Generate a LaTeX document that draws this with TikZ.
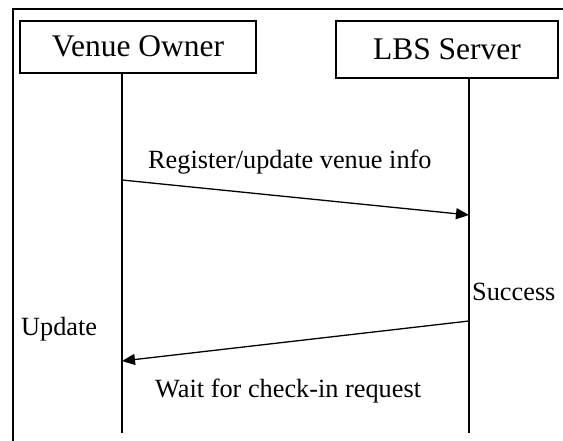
\documentclass[tikz,border=0pt]{standalone}
\usepackage{fontspec}
\setmainfont{Liberation Serif}
\usetikzlibrary{arrows.meta}
\begin{document}
\begin{tikzpicture}[x=1pt,y=-1pt,
  actor/.style={draw, line width=1.3pt, inner sep=0pt, text height=20pt, text depth=0pt,
    font=\fontsize{31.5}{36}\selectfont},
  lifeline/.style={line width=1.3pt},
  msg/.style={line width=1.3pt, -{Triangle[length=13pt,width=11pt]}},
  lbl/.style={anchor=base west, inner sep=0pt, font=\fontsize{26.3}{30}\selectfont},
  frame/.style={line width=1.5pt}]
  \useasboundingbox (0,0) rectangle (563,441);

  % outer frame (open at right and bottom)
  \draw[frame] (563,9) -- (13,9) -- (13,441);

  % participants
  \node[actor, minimum width=236pt, minimum height=52pt] (owner) at (138,47) {Venue Owner};
  \node[actor, minimum width=222pt, minimum height=57pt] (server) at (447,49.5) {LBS Server};

  % lifelines
  \coordinate (ownerEnd) at (122,433);
  \coordinate (serverEnd) at (469,433);
  \draw[lifeline] (ownerEnd |- owner.south) -- (ownerEnd);
  \draw[lifeline] (serverEnd |- server.south) -- (serverEnd);

  % message end points on the lifelines
  \coordinate (m1a) at (122,180);
  \coordinate (m1b) at (469,215);
  \coordinate (m2a) at (469,321);
  \coordinate (m2b) at (122,361);

  \draw[msg] (m1a) -- (m1b);
  \draw[msg] (m2a) -- (m2b);

  % labels
  \node[lbl] (lreg) at (148,169) {Register/update venue info};
  \node[lbl] (lsucc) at (472,300) {Success};
  \node[lbl] (lupd) at (21,335) {Update};
  \node[lbl] (lwait) at (155,397) {Wait for check-in request};
\end{tikzpicture}
\end{document}
